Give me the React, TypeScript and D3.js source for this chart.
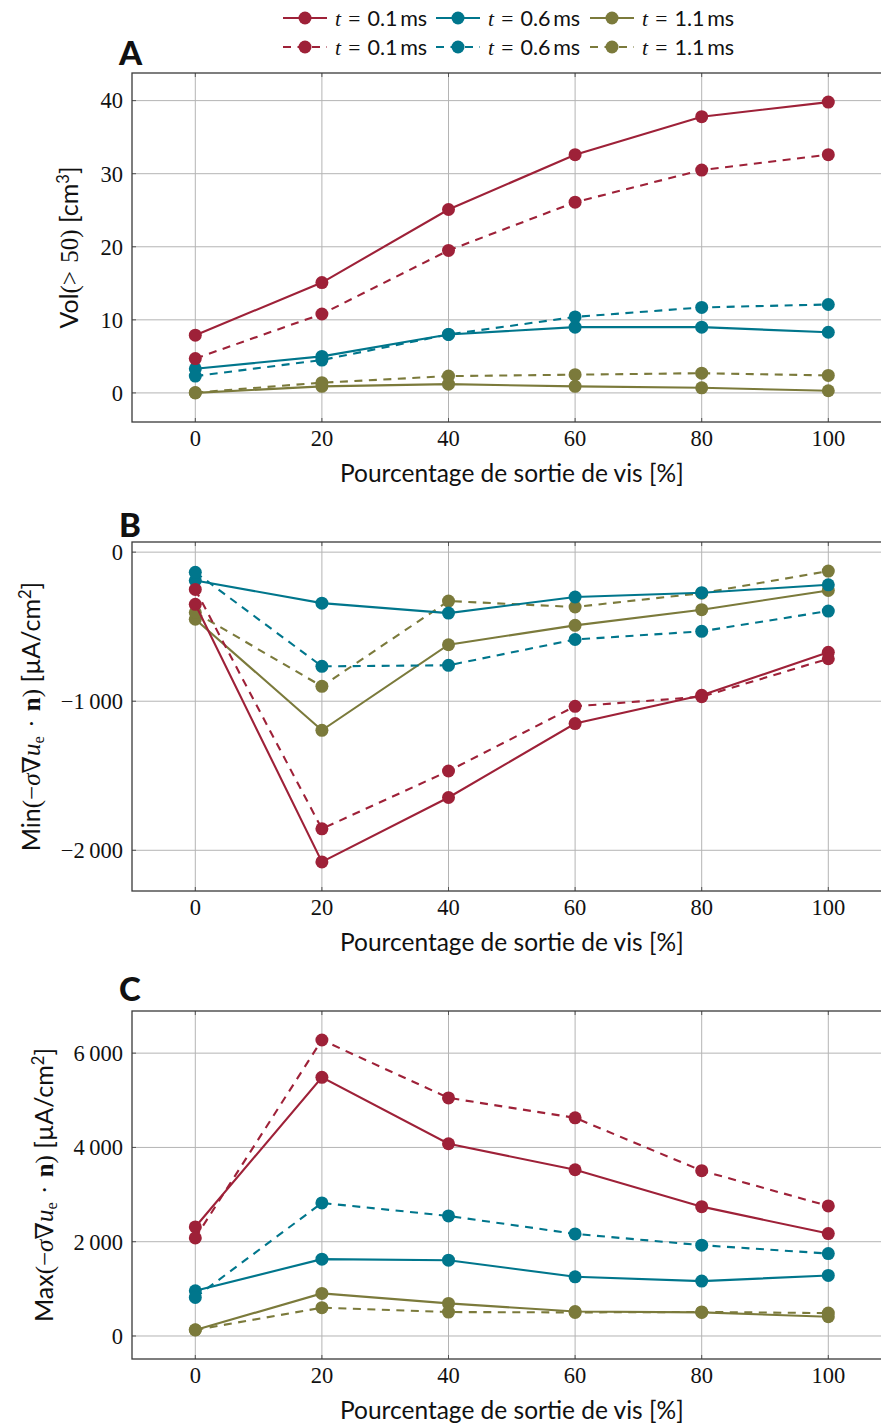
import React from 'react';
import * as d3 from 'd3';

const xValues = [0, 20, 40, 60, 80, 100];
const xTicks = [0, 20, 40, 60, 80, 100];

const volRedSolid = [7.9, 15.1, 25.1, 32.6, 37.8, 39.8];
const volRedDashed = [4.7, 10.8, 19.5, 26.1, 30.5, 32.6];
const volTealSolid = [3.3, 5.0, 8.0, 9.0, 9.0, 8.3];
const volTealDashed = [2.3, 4.5, 8.0, 10.4, 11.7, 12.1];
const volOliveSolid = [0.0, 0.9, 1.2, 0.9, 0.7, 0.3];
const volOliveDashed = [0.05, 1.4, 2.3, 2.5, 2.7, 2.4];
const volTicks = [0, 10, 20, 30, 40];

const minRedSolid = [-350, -2078, -1646, -1150, -960, -672];
const minRedDashed = [-250, -1856, -1468, -1034, -970, -715];
const minTealSolid = [-190, -342, -409, -301, -272, -219];
const minTealDashed = [-135, -766, -759, -586, -531, -395];
const minOliveSolid = [-450, -1195, -621, -491, -386, -257];
const minOliveDashed = [-405, -900, -328, -368, -275, -127];
const minTicks = [-2000, -1000, 0];

const maxRedSolid = [2313, 5488, 4078, 3527, 2744, 2173];
const maxRedDashed = [2081, 6279, 5051, 4628, 3506, 2759];
const maxTealSolid = [959, 1630, 1608, 1256, 1164, 1284];
const maxTealDashed = [819, 2822, 2547, 2166, 1926, 1749];
const maxOliveSolid = [127, 903, 691, 520, 500, 409];
const maxOliveDashed = [130, 600, 508, 500, 510, 485];
const maxTicks = [0, 2000, 4000, 6000];

const seriesNames = ['t = 0.1 ms', 't = 0.6 ms', 't = 1.1 ms'];
const timeLabels = ['0.1', '0.6', '1.1'];
const COLORS = ['#9e2138', '#00768c', '#7b7a3b'];

const SANS = 'Lato, "Open Sans", sans-serif';
const SERIF = '"Liberation Serif", "DejaVu Serif", serif';

const W = 881;
const H = 1427;
const LEFT = 132;
const RIGHT = 891.6;

const xScale = d3.scaleLinear().domain([-10, 110]).range([LEFT, RIGHT]);

type Series = { values: number[]; color: string; dashed: boolean };

function buildSeries(rs: number[], rd: number[], ts: number[], td: number[], os: number[], od: number[]): Series[] {
  return [
    { values: os, color: COLORS[2], dashed: false },
    { values: od, color: COLORS[2], dashed: true },
    { values: ts, color: COLORS[1], dashed: false },
    { values: td, color: COLORS[1], dashed: true },
    { values: rs, color: COLORS[0], dashed: false },
    { values: rd, color: COLORS[0], dashed: true },
  ];
}

const panels = [
  {
    letter: 'A', top: 73, bottom: 422, letterY: 65, ylabelX: 78,
    ticks: volTicks,
    series: buildSeries(volRedSolid, volRedDashed, volTealSolid, volTealDashed, volOliveSolid, volOliveDashed),
    kind: 'vol',
  },
  {
    letter: 'B', top: 542, bottom: 891, letterY: 537, ylabelX: 40,
    ticks: minTicks,
    series: buildSeries(minRedSolid, minRedDashed, minTealSolid, minTealDashed, minOliveSolid, minOliveDashed),
    kind: 'min',
  },
  {
    letter: 'C', top: 1011, bottom: 1359, letterY: 1001, ylabelX: 53,
    ticks: maxTicks,
    series: buildSeries(maxRedSolid, maxRedDashed, maxTealSolid, maxTealDashed, maxOliveSolid, maxOliveDashed),
    kind: 'max',
  },
];

const fmt = (v: number) => d3.format(',')(v).replace(/,/g, '\u2009').replace('-', '\u2212');

const DASH = '8,6.5';
const LABEL_FS = 25;
const SUP_FS = 16.5;

function YLabel({ kind }: { kind: string }) {
  if (kind === 'vol') {
    return (
      <>
        <tspan fontFamily={SANS}>Vol</tspan>
        <tspan fontFamily={SERIF}>(&gt;{'\u2004'}50)</tspan>
        <tspan fontFamily={SANS}> [cm</tspan>
        <tspan fontFamily={SANS} fontSize={SUP_FS} dy={-9}>3</tspan>
        <tspan fontFamily={SANS} dy={9}>]</tspan>
      </>
    );
  }
  return (
    <>
      <tspan fontFamily={SANS}>{kind === 'min' ? 'Min' : 'Max'}</tspan>
      <tspan fontFamily={SERIF}>(−</tspan>
      <tspan fontFamily={SERIF} fontStyle="italic">σ</tspan>
      <tspan fontFamily={SERIF}>∇</tspan>
      <tspan fontFamily={SERIF} fontStyle="italic">u</tspan>
      <tspan fontFamily={SERIF} fontSize={SUP_FS} dy={4}>e</tspan>
      <tspan fontFamily={SERIF} dy={-4}>{'\u2004·\u2004'}</tspan>
      <tspan fontFamily={SERIF} fontWeight="bold">n</tspan>
      <tspan fontFamily={SERIF}>)</tspan>
      <tspan fontFamily={SANS}> [µA/cm</tspan>
      <tspan fontFamily={SANS} fontSize={SUP_FS} dy={-9}>2</tspan>
      <tspan fontFamily={SANS} dy={9}>]</tspan>
    </>
  );
}

function Panel({ p }: { p: typeof panels[number] }) {
  const all = p.series.flatMap((s) => s.values);
  const [mn, mx] = d3.extent(all) as [number, number];
  const pad = (mx - mn) * 0.1;
  const y = d3.scaleLinear().domain([mn - pad, mx + pad]).range([p.bottom, p.top]);
  const line = d3.line<number>().x((_, i) => xScale(xValues[i])).y((v) => y(v));
  const midY = (p.top + p.bottom) / 2;
  return (
    <g>
      {xTicks.map((t) => (
        <line key={'gx' + t} x1={xScale(t)} x2={xScale(t)} y1={p.top} y2={p.bottom} stroke="#b4b4b4" strokeWidth={1} />
      ))}
      {p.ticks.map((t) => (
        <line key={'gy' + t} x1={LEFT} x2={RIGHT} y1={y(t)} y2={y(t)} stroke="#b4b4b4" strokeWidth={1} />
      ))}
      {xTicks.map((t) => (
        <g key={'tx' + t}>
          <line x1={xScale(t)} x2={xScale(t)} y1={p.bottom} y2={p.bottom - 4} stroke="#555" strokeWidth={1} />
          <line x1={xScale(t)} x2={xScale(t)} y1={p.top} y2={p.top + 4} stroke="#555" strokeWidth={1} />
        </g>
      ))}
      {p.ticks.map((t) => (
        <line key={'ty' + t} x1={LEFT} x2={LEFT + 4} y1={y(t)} y2={y(t)} stroke="#555" strokeWidth={1} />
      ))}
      <rect x={LEFT} y={p.top} width={RIGHT - LEFT} height={p.bottom - p.top} fill="none" stroke="#3a3a3a" strokeWidth={1.3} />
      {p.series.map((s, si) => (
        <g key={'s' + si}>
          <path d={line(s.values) || ''} fill="none" stroke={s.color} strokeWidth={2.1} strokeDasharray={s.dashed ? DASH : undefined} />
          {s.values.map((v, i) => (
            <circle key={i} cx={xScale(xValues[i])} cy={y(v)} r={6.5} fill={s.color} />
          ))}
        </g>
      ))}
      {p.ticks.map((t) => (
        <text key={'ly' + t} x={123} y={y(t)} dy="0.35em" textAnchor="end" fontFamily={SERIF} fontSize={22.5} fill="#111">{fmt(t)}</text>
      ))}
      {xTicks.map((t) => (
        <text key={'lx' + t} x={xScale(t)} y={p.bottom + 24} textAnchor="middle" fontFamily={SERIF} fontSize={22.5} fill="#111">{fmt(t)}</text>
      ))}
      <text x={(LEFT + RIGHT) / 2} y={p.bottom + 60} textAnchor="middle" fontFamily={SANS} fontSize={24.5} fill="#111">Pourcentage de sortie de vis [%]</text>
      <text x={119} y={p.letterY} fontFamily={SANS} fontWeight={900} fontSize={33} fill="#111">{p.letter}</text>
      <text transform={`translate(${p.ylabelX},${midY}) rotate(-90)`} textAnchor="middle" fontSize={LABEL_FS} fill="#111">
        <YLabel kind={p.kind} />
      </text>
    </g>
  );
}

function Legend() {
  const starts = [283, 436, 590];
  const rows = [{ y: 18, dashed: false }, { y: 47, dashed: true }];
  return (
    <g>
      {rows.map((r, ri) =>
        seriesNames.map((name, i) => (
          <g key={ri + '-' + i}>
            <line x1={starts[i]} x2={starts[i] + 44} y1={r.y} y2={r.y} stroke={COLORS[i]} strokeWidth={2.2} strokeDasharray={r.dashed ? DASH : undefined} />
            <circle cx={starts[i] + 22} cy={r.y} r={6.5} fill={COLORS[i]} />
            <text x={starts[i] + 52} y={r.y} dy="0.35em" fontSize={21.5} fill="#111">
              <tspan fontFamily={SERIF} fontStyle="italic">t</tspan>
              <tspan fontFamily={SERIF}>{'\u2004=\u2004'}</tspan>
              <tspan fontFamily={SANS}>{timeLabels[i]}{'\u2009'}ms</tspan>
            </text>
          </g>
        ))
      )}
    </g>
  );
}

export default function App() {
  return (
    <svg width={W} height={H} style={{ position: 'absolute', left: 0, top: 0, background: '#fff' }}>
      <rect x={0} y={0} width={W} height={H} fill="#fff" />
      <Legend />
      {panels.map((p) => (
        <Panel key={p.letter} p={p} />
      ))}
    </svg>
  );
}
